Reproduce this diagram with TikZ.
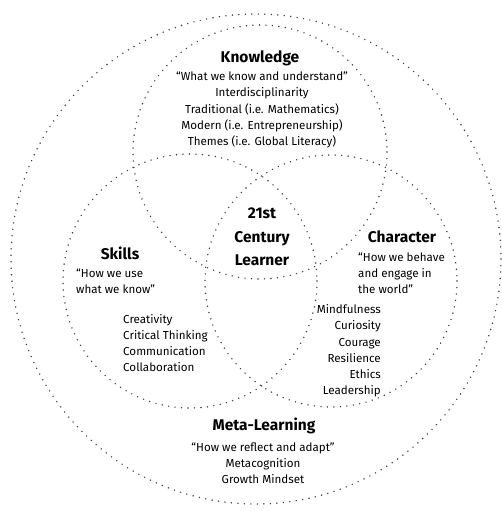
\documentclass[tikz,border=0pt]{standalone}
\usepackage{fontspec}
\setmainfont{Fira Sans}
\usetikzlibrary{positioning}

\begin{document}
\begin{tikzpicture}[x=1pt,y=-1pt,
  ring/.style={draw=black!75,line width=1.6pt,dash pattern=on 0pt off 6.5pt,line cap=round},
  head/.style={font=\fontsize{15.5}{23.5}\selectfont\bfseries,align=center,inner sep=0pt},
  body/.style={font=\fontsize{11.6}{16.2}\selectfont,inner sep=0pt}]
\useasboundingbox (0,0) rectangle (502,511);
% rings
\draw[ring] (256,259) circle[radius=245];
\draw[ring] (260,152) circle[radius=127];
\draw[ring] (190,281) circle[radius=127];
\draw[ring] (331,281) circle[radius=126];
% knowledge
\node[head] (know) at (260,58) {Knowledge};
\node[body,align=center] (knowtxt) at (262,110) {``What we know and understand''\\Interdisciplinarity\\Traditional (i.e. Mathematics)\\Modern (i.e. Entrepreneurship)\\Themes (i.e. Global Literacy)};
% skills
\node[head] (skills) at (120,253) {Skills};
\node[body,align=left,anchor=west] (skillsq) at (76,281) {``How we use\\what we know''};
\node[body,align=left,anchor=west] (skillslist) at (123,343) {Creativity\\Critical Thinking\\Communication\\Collaboration};
% character
\node[head] (char) at (402,237) {Character};
\node[body,align=left,anchor=west] (charq) at (358,273) {``How we behave\\and engage in\\the world''};
\node[body,align=right,anchor=east] (charlist) at (381,351) {Mindfulness\\Curiosity\\Courage\\Resilience\\Ethics\\Leadership};
% meta-learning
\node[head] (meta) at (264,426) {Meta-Learning};
\node[body,align=center] (metatxt) at (263,463) {``How we reflect and adapt''\\Metacognition\\Growth Mindset};
% centre
\node[head] (learner) at (262,237) {21st\\Century\\Learner};
\end{tikzpicture}
\end{document}
